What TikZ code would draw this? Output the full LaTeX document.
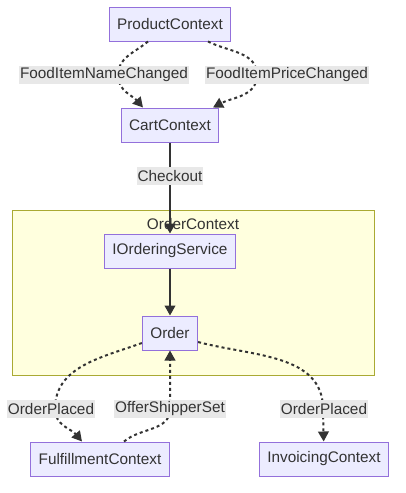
\documentclass[tikz,border=0pt]{standalone}
\usepackage{fontspec}
\setmainfont{Liberation Sans}
\usetikzlibrary{arrows.meta,calc}
\definecolor{diagramNode}{HTML}{9370DB}
\definecolor{diagramNodeBg}{HTML}{ECECFF}
\definecolor{diagramGroup}{HTML}{AAAA33}
\definecolor{diagramGroupBg}{HTML}{FFFFDE}
\definecolor{diagramLabelBg}{HTML}{E8E8E8}
\definecolor{diagramFlow}{HTML}{333333}

\begin{document}
\begin{tikzpicture}[
    x=0.75pt,y=0.75pt,>={Triangle[length=7.5pt,width=8pt]},
    every node/.style={font=\fontsize{11.5}{13}\selectfont,text=diagramFlow},
    context/.style={draw=diagramNode,fill=diagramNodeBg,line width=0.75pt,inner xsep=6pt,minimum height=25.5pt},
    group/.style={draw=diagramGroup,fill=diagramGroupBg,line width=0.75pt},
    msg/.style={fill=diagramLabelBg,inner xsep=0.5pt,inner ysep=0pt,minimum height=13.5pt},
    flow/.style={->,draw=diagramFlow,line width=1.5pt},
    event/.style={flow,dash pattern=on 2.25pt off 2.25pt}
]
\useasboundingbox (0,0) rectangle (406,-493);
\draw[group] (12,-210) rectangle (374,-375);
\node (grouplabel) at (193,-224) {OrderContext};
\node[context] (product) at (170,-24) {ProductContext};
\node[context] (cart) at (170,-125) {CartContext};
\node[context] (service) at (170,-251) {IOrderingService};
\node[context] (order) at (170,-333) {Order};
\node[context] (fulfil) at (100,-459) {FulfillmentContext};
\node[context] (invoice) at (324,-459) {InvoicingContext};
\coordinate (nameBend) at (118,-75);
\coordinate (priceBend) at (257,-75);
\coordinate (placedBend) at (55,-409);
\coordinate (shipperBend) at (170,-409);
\coordinate (invoiceBend) at (323,-409);
\draw[event] ($(product.south)+(-22,0)$) to[out=220,in=90] (nameBend) to[out=-90,in=131] ($(cart.north)+(-27,0)$);
\draw[event] ($(product.south)+(38,0)$) to[out=-27,in=90] (priceBend) to[out=-90,in=28] ($(cart.north)+(43,0)$);
\draw[flow] (cart) -- (service);
\draw[flow] (service) -- (order);
\draw[event] ($(order.west)+(0,-10)$) to[out=200,in=90] (placedBend) to[out=-90,in=130] ($(fulfil.north)+(-18,0)$);
\draw[event] ($(fulfil.north)+(24,0)$) to[out=40,in=-90] (shipperBend) -- (order);
\draw[event] ($(order.east)+(0,-9)$) to[out=-15,in=90] (invoiceBend) -- (invoice);
% edge labels on top
\node[msg] (nameMsg) at (104,-75) {FoodItemNameChanged};
\node[msg] (priceMsg) at (287,-75) {FoodItemPriceChanged};
\node[msg] (checkoutMsg) at (170,-176) {Checkout};
\node[msg] (placedMsg) at (51,-409) {OrderPlaced};
\node[msg] (shipperMsg) at (170,-409) {OfferShipperSet};
\node[msg] (invoiceMsg) at (324,-409) {OrderPlaced};
\end{tikzpicture}
\end{document}
